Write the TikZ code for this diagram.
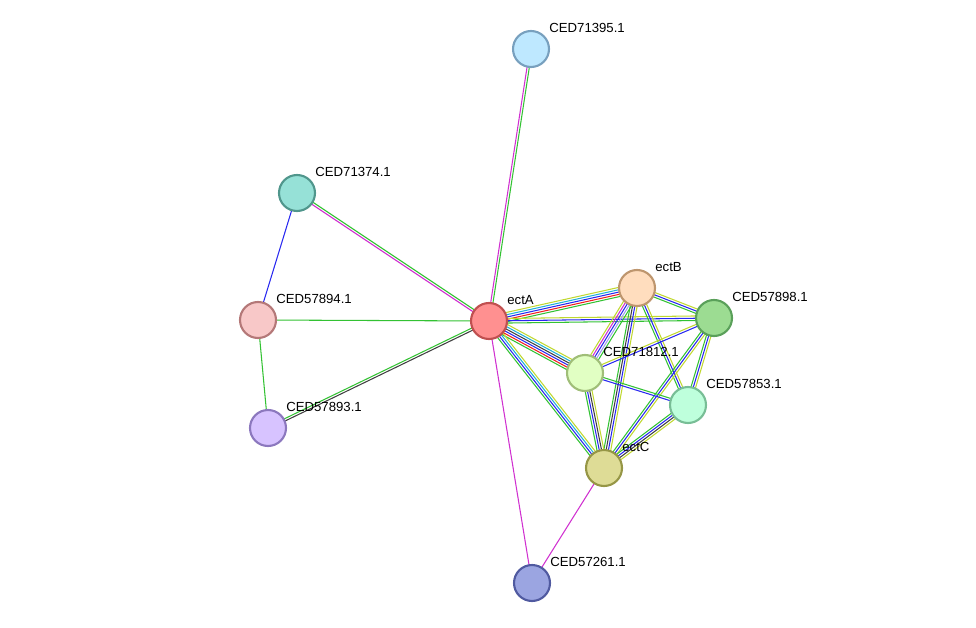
\documentclass[tikz,border=0pt]{standalone}
\usepackage{fontspec}
\setmainfont{Liberation Sans}
\usetikzlibrary{calc,positioning}

\definecolor{eg}{HTML}{33C233}
\definecolor{er}{HTML}{F02020}
\definecolor{eb}{HTML}{2828F0}
\definecolor{ec}{HTML}{20B0D8}
\definecolor{ey}{HTML}{C0D830}
\definecolor{em}{HTML}{D030D0}
\definecolor{ek}{HTML}{404040}
\definecolor{el}{HTML}{A0A0F0}

\tikzset{
  protein/.style={circle, minimum size=0.72cm, inner sep=0pt, line width=1.2pt},
  lbl/.style={font=\fontsize{7.5}{8}\selectfont, inner sep=0pt, anchor=south west}
}

\newcommand{\multiedge}[3]{%
  \foreach \col [count=\i] in {#3} {\xdef\edgecount{\i}}%
  \foreach \col [count=\i] in {#3} {%
    \pgfmathsetmacro{\off}{(\i-(\edgecount+1)/2)*1.3}%
    \draw[\col, line width=0.6pt] ($(#1)!\off pt!90:(#2)$) -- ($(#2)!\off pt!-90:(#1)$);
  }%
}

\begin{document}
\begin{tikzpicture}[x=0.02cm, y=-0.02cm]
\useasboundingbox (0,0) rectangle (976,628);

% positions
\coordinate (a) at (489,321);
\coordinate (b) at (637,288);
\coordinate (c) at (604,468);
\coordinate (p98) at (714,318);
\coordinate (p12) at (585,373);
\coordinate (p53) at (688,405);
\coordinate (p95) at (531,49);
\coordinate (p74) at (297,193);
\coordinate (p94) at (258,320);
\coordinate (p93) at (268,428);
\coordinate (p61) at (532,583);

% edges
\multiedge{a}{p95}{eg,em}
\multiedge{a}{p74}{eg,em}
\multiedge{a}{p94}{eg}
\multiedge{a}{p93}{eg,ek}
\multiedge{a}{p61}{em}
\multiedge{p74}{p94}{eb}
\multiedge{p94}{p93}{eg}
\multiedge{c}{p61}{em}
\multiedge{a}{b}{eg,er,eb,ec,ey}
\multiedge{a}{p98}{eg,eb,ey}
\multiedge{a}{p12}{eg,er,eb,ek,ec,ey}
\multiedge{a}{c}{eg,eb,ec,ey}
\multiedge{b}{p98}{eg,eb,ey}
\multiedge{b}{p12}{ey,em,eb,el,eg}
\multiedge{b}{c}{eg,ek,eb,ey}
\multiedge{b}{p53}{eg,eb,ey}
\multiedge{p98}{p12}{ey,eb}
\multiedge{p98}{p53}{eg,eb,ey}
\multiedge{p98}{c}{eg,eb,ey}
\multiedge{p12}{p53}{eb,eg}
\multiedge{p12}{c}{eg,eb,ek,ey}
\multiedge{p53}{c}{eg,eb,ek,ey}

% proteins
\node[protein, draw={rgb,255:red,192;green,80;blue,80}, fill={rgb,255:red,255;green,144;blue,144}] (ectA) at (a) {};
\node[protein, draw={rgb,255:red,190;green,150;blue,110}, fill={rgb,255:red,255;green,221;blue,190}] (ectB) at (b) {};
\node[protein, draw={rgb,255:red,150;green,150;blue,70}, fill={rgb,255:red,222;green,220;blue,150}] (ectC) at (c) {};
\node[protein, draw={rgb,255:red,90;green,160;blue,90}, fill={rgb,255:red,156;green,220;blue,146}] (ced98) at (p98) {};
\node[protein, draw={rgb,255:red,160;green,190;blue,120}, fill={rgb,255:red,225;green,255;blue,195}] (ced12) at (p12) {};
\node[protein, draw={rgb,255:red,120;green,190;blue,150}, fill={rgb,255:red,190;green,255;blue,220}] (ced53) at (p53) {};
\node[protein, draw={rgb,255:red,120;green,160;blue,190}, fill={rgb,255:red,190;green,232;blue,255}] (ced95) at (p95) {};
\node[protein, draw={rgb,255:red,80;green,150;blue,140}, fill={rgb,255:red,150;green,225;blue,215}] (ced74) at (p74) {};
\node[protein, draw={rgb,255:red,180;green,120;blue,120}, fill={rgb,255:red,248;green,200;blue,200}] (ced94) at (p94) {};
\node[protein, draw={rgb,255:red,140;green,120;blue,190}, fill={rgb,255:red,215;green,195;blue,255}] (ced93) at (p93) {};
\node[protein, draw={rgb,255:red,80;green,90;blue,160}, fill={rgb,255:red,155;green,165;blue,225}] (ced61) at (p61) {};

% labels
\node[lbl] at ($(ectA)+(18,-16)$) {ectA};
\node[lbl] at ($(ectB)+(18,-16)$) {ectB};
\node[lbl] at ($(ectC)+(18,-16)$) {ectC};
\node[lbl] at ($(ced98)+(18,-16)$) {CED57898.1};
\node[lbl] at ($(ced12)+(18,-16)$) {CED71812.1};
\node[lbl] at ($(ced53)+(18,-16)$) {CED57853.1};
\node[lbl] at ($(ced95)+(18,-16)$) {CED71395.1};
\node[lbl] at ($(ced74)+(18,-16)$) {CED71374.1};
\node[lbl] at ($(ced94)+(18,-16)$) {CED57894.1};
\node[lbl] at ($(ced93)+(18,-16)$) {CED57893.1};
\node[lbl] at ($(ced61)+(18,-16)$) {CED57261.1};
\end{tikzpicture}
\end{document}
